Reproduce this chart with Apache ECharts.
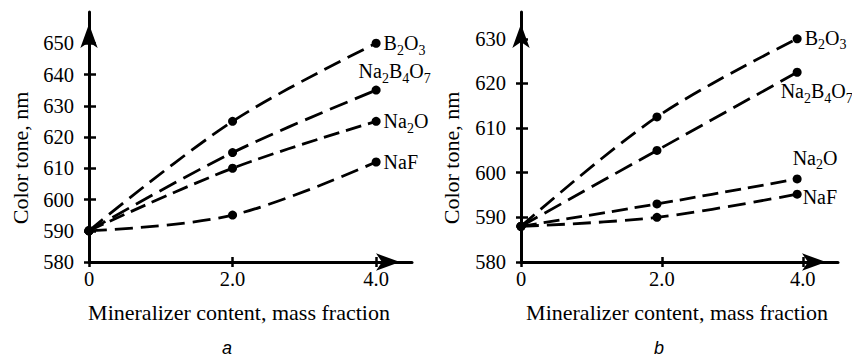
<!DOCTYPE html>
<html>
<head>
<meta charset="utf-8">
<script src="https://cdn.jsdelivr.net/npm/echarts@6/dist/echarts.min.js"></script>
<style>
  html, body { margin: 0; padding: 0; background: #fff; }
  #chart { width: 852px; height: 359px; }
</style>
</head>
<body>
<div id="chart"></div>
<script>
// Mineralizer content, mass fraction (panel a and panel b)
const contentA = [0, 2.0, 4.0];
const contentB = [0, 1.93, 3.92];

// Colour tone, nm — panel a
const toneA_B2O3 = [590, 625, 650];
const toneA_Na2B4O7 = [590, 615, 635];
const toneA_Na2O = [590, 610, 625];
const toneA_NaF = [590, 595, 612];

// Colour tone, nm — panel b
const toneB_B2O3 = [588, 612.5, 630];
const toneB_Na2B4O7 = [588, 605, 622.5];
const toneB_Na2O = [588, 593, 598.6];
const toneB_NaF = [588, 590, 595.2];

// Series names and their formula labels (rich text with subscripts)
const seriesNames = ['B2O3', 'Na2B4O7', 'Na2O', 'NaF'];
const formulaText = [
  '{m|B}{s|2}{m|O}{s|3}',
  '{m|Na}{s|2}{m|B}{s|4}{m|O}{s|7}',
  '{m|Na}{s|2}{m|O}',
  '{m|NaF}'
];

// Tick values and axis ranges
const xTicks = [0, 2, 4];
const yTicksA = [580, 590, 600, 610, 620, 630, 640, 650];
const yTicksB = [580, 590, 600, 610, 620, 630];
const xMax = 4.5;
const yMinA = 580, yMaxA = 660;
const yMinB = 580, yMaxB = 636;

// Axis titles and panel letters
const xTitle = 'Mineralizer content, mass fraction';
const yTitle = 'Color tone, nm';
const panelLetters = ['a', 'b'];

// ---- styling ----
const SERIF = '"Liberation Serif", "Times New Roman", serif';
const INK = '#000';
const labelOffsetsA = [[0, 0], [-25, -19], [0, 0], [0, 0]];
const labelOffsetsB = [[0, -1], [-24, 19], [-12, -21], [-2, 3]];
const dashes = [[18, 8], [19, 8], [16, 7], [18, 8]];

const rich = {
  m: { fontFamily: SERIF, fontSize: 20, lineHeight: 22, color: INK },
  s: { fontFamily: SERIF, fontSize: 14, lineHeight: 16, padding: [14, 0, 0, 0], color: INK }
};

function pairs(xs, ys) { return xs.map((x, i) => [x, ys[i]]); }

function makeSeries(xs, ysList, offsets, axisIndex) {
  return ysList.map((ys, k) => {
    const data = pairs(xs, ys);
    const last = data.length - 1;
    return {
      type: 'line',
      name: seriesNames[k],
      xAxisIndex: axisIndex,
      yAxisIndex: axisIndex,
      smooth: 0.35,
      symbol: 'circle',
      symbolSize: 9,
      itemStyle: { color: INK },
      lineStyle: { color: INK, width: 2.8, type: dashes[k] },
      data: data.map((d, i) => i === last ? {
        value: d,
        label: {
          show: true,
          position: 'right',
          distance: 3,
          offset: offsets[k],
          formatter: formulaText[k],
          rich: rich
        }
      } : d),
      label: { show: false },
      emphasis: { disabled: true },
      silent: true,
      z: 3
    };
  });
}

function xAxisPair(grid, inner) {
  return {
    type: 'value', gridIndex: grid, position: 'bottom', min: 0, max: xMax,
    axisLine: inner ? { show: false, onZero: false } : {
      show: true, onZero: false,
      lineStyle: { color: INK, width: 3 },
      symbol: ['none', 'arrow'], symbolSize: [13, 24], symbolOffset: [0, -12]
    },
    axisTick: { show: true, inside: inner, length: 5, customValues: xTicks,
                lineStyle: { color: INK, width: 2.5 } },
    axisLabel: inner ? { show: false } : {
      show: true, customValues: xTicks, margin: 6,
      fontFamily: SERIF, fontSize: 20.5, color: INK,
      formatter: v => v === 0 ? '0' : v.toFixed(1)
    },
    splitLine: { show: false }
  };
}

function yAxisPair(grid, inner, min, max, ticks) {
  return {
    type: 'value', gridIndex: grid, position: 'left', min: min, max: max,
    axisLine: inner ? { show: false, onZero: false } : {
      show: true, onZero: false,
      lineStyle: { color: INK, width: 3 },
      symbol: ['none', 'arrow'], symbolSize: [13, 24], symbolOffset: [0, -12]
    },
    axisTick: { show: true, inside: inner, length: inner ? 7 : 5, customValues: ticks,
                lineStyle: { color: INK, width: 2.5 } },
    axisLabel: inner ? { show: false } : {
      show: true, customValues: ticks, margin: 15,
      fontFamily: SERIF, fontSize: 20.5, color: INK
    },
    splitLine: { show: false }
  };
}

const chart = echarts.init(document.getElementById('chart'), null, { renderer: 'svg' });

const titleFont = '22px ' + SERIF;
const letterFont = 'italic 18px "Liberation Sans", Arial, sans-serif';

chart.setOption({
  animation: false,
  backgroundColor: '#fff',
  grid: [
    { left: 89, top: 12, width: 323, height: 250 },
    { left: 521, top: 12, width: 317, height: 250 }
  ],
  xAxis: [xAxisPair(0, false), xAxisPair(1, false), xAxisPair(0, true), xAxisPair(1, true)],
  yAxis: [
    yAxisPair(0, false, yMinA, yMaxA, yTicksA),
    yAxisPair(1, false, yMinB, yMaxB, yTicksB),
    yAxisPair(0, true, yMinA, yMaxA, yTicksA),
    yAxisPair(1, true, yMinB, yMaxB, yTicksB)
  ],
  series: [
    ...makeSeries(contentA, [toneA_B2O3, toneA_Na2B4O7, toneA_Na2O, toneA_NaF], labelOffsetsA, 0),
    ...makeSeries(contentB, [toneB_B2O3, toneB_Na2B4O7, toneB_Na2O, toneB_NaF], labelOffsetsB, 1)
  ],
  graphic: [
    { type: 'text', x: 239, y: 312, silent: true,
      style: { text: xTitle, font: titleFont, fill: INK, align: 'center', verticalAlign: 'middle' } },
    { type: 'text', x: 677, y: 312, silent: true,
      style: { text: xTitle, font: titleFont, fill: INK, align: 'center', verticalAlign: 'middle' } },
    { type: 'text', x: 20, y: 158, rotation: Math.PI / 2, silent: true,
      style: { text: yTitle, font: titleFont, fill: INK, align: 'center', verticalAlign: 'middle' } },
    { type: 'text', x: 451, y: 158, rotation: Math.PI / 2, silent: true,
      style: { text: yTitle, font: titleFont, fill: INK, align: 'center', verticalAlign: 'middle' } },
    { type: 'text', x: 227, y: 348, silent: true,
      style: { text: panelLetters[0], font: letterFont, fill: INK, align: 'center', verticalAlign: 'middle' } },
    { type: 'text', x: 659, y: 348, silent: true,
      style: { text: panelLetters[1], font: letterFont, fill: INK, align: 'center', verticalAlign: 'middle' } }
  ]
});
</script>
</body>
</html>
